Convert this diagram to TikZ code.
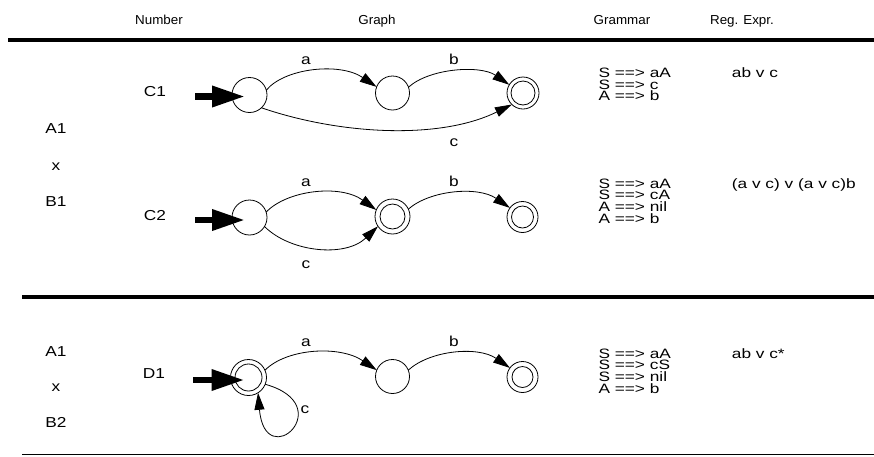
\documentclass[tikz,border=0pt]{standalone}
\usepackage{fontspec}
\setmainfont{Liberation Sans}[FakeStretch=1.2]
\newfontfamily\hdrfamily{Liberation Sans}[FakeStretch=1.03]
\newfontfamily\gramfamily{Liberation Sans}[FakeStretch=1.27]
\usetikzlibrary{arrows.meta}

\newcommand{\bodyfont}{\fontsize{14.4pt}{11.7pt}\selectfont}
\newcommand{\gramfont}{\gramfamily\fontsize{13.6pt}{11.7pt}\selectfont}
\newcommand{\headfont}{\hdrfamily\fontsize{13pt}{15pt}\selectfont}

\tikzset{
  stnode/.style={circle, draw, line width=0.8pt, inner sep=0pt, outer sep=0pt, minimum size=#1},
  accnode/.style 2 args={stnode=#1,
    path picture={\draw[line width=0.8pt] (path picture bounding box.center) circle[radius=#2];}},
  trans/.style={line width=0.8pt, -{Triangle[length=17pt,width=10pt]}},
  initarrow/.style={line width=6.5pt, -{Triangle[length=33pt,width=20pt]}},
  lbl/.style={font=\bodyfont, inner sep=0pt, anchor=base},
  hdr/.style={font=\headfont, inner sep=0pt, anchor=base},
  gram/.style={font=\gramfont, inner sep=0pt, anchor=base west, align=left},
  rule/.style={line width=#1},
}

\begin{document}
\begin{tikzpicture}[x=1pt,y=1pt]
\useasboundingbox (0,0) rectangle (874,-456);

% column headings and separators
\node[hdr] (hnum) at (159,-24.5) {Number};
\node[hdr] (hgraph) at (377,-24.5) {Graph};
\node[hdr] (hgram) at (622,-24.5) {Grammar};
\node[hdr] (hreg) at (742,-24.5) {Reg. Expr.};
\draw[rule=4.5pt] (8,-40) -- (874,-40);
\draw[rule=4pt] (22,-297) -- (874,-297);
\draw[rule=1.5pt] (22,-454.5) -- (874,-454.5);

% left column
\node[lbl] (la1) at (56,-133.3) {A1};
\node[lbl] (lx1) at (56,-170) {x};
\node[lbl] (lb1) at (56,-206.7) {B1};
\node[lbl] (la2) at (56,-356.7) {A1};
\node[lbl] (lx2) at (56,-391.7) {x};
\node[lbl] (lb2) at (56,-427.3) {B2};

% automaton numbers
\node[lbl] (nc1) at (155,-96.7) {C1};
\node[lbl] (nc2) at (155,-220) {C2};
\node[lbl] (nd1) at (154,-378) {D1};

% ---- C1 ----
\node[stnode=35pt] (c1s) at (249.5,-95) {};
\node[stnode=34pt] (c1m) at (392.5,-93) {};
\node[accnode={32pt}{12pt}] (c1f) at (523,-93) {};
\coordinate (c1in) at (195,-96.5);
\draw[initarrow] (c1in) -- ([shift={(-4.5,-1.5)}]c1s.center);
\draw[trans] (c1s.16) .. controls +(18,22) and +(-37,25) .. (c1m.159);
\draw[trans] (c1m.20) .. controls +(21,19) and +(-29,20) .. (c1f.149);
\draw[trans] (c1s.-47) .. controls +(79,-27) and +(-72,-35.5) .. (c1f.-134);
\node[lbl] (c1a) at (306,-64) {a};
\node[lbl] (c1b) at (454,-64) {b};
\node[lbl] (c1c) at (454,-146.7) {c};

% ---- C2 ----
\node[stnode=35pt] (c2s) at (249.5,-217.5) {};
\node[accnode={35pt}{12.5pt}] (c2m) at (392.5,-216.5) {};
\node[accnode={31pt}{11pt}] (c2f) at (522.5,-217) {};
\coordinate (c2in) at (195,-220);
\draw[initarrow] (c2in) -- ([shift={(-4.5,-2.5)}]c2s.center);
\draw[trans] (c2s.18) .. controls +(21,22) and +(-36,26) .. (c2m.158);
\draw[trans] (c2s.-31) .. controls +(25.5,-25.5) and +(-33,-31.7) .. (c2m.214);
\draw[trans] (c2m.25) .. controls +(21.6,19) and +(-32,22) .. (c2f.144);
\node[lbl] (c2a) at (306,-186) {a};
\node[lbl] (c2b) at (454,-186) {b};
\node[lbl] (c2c) at (306,-268) {c};

% ---- D1 ----
\node[accnode={36pt}{13.5pt}] (d1s) at (248.5,-377.5) {};
\node[stnode=34pt] (d1m) at (392.5,-376.5) {};
\node[accnode={31pt}{10.5pt}] (d1f) at (522.5,-377) {};
\coordinate (d1in) at (193,-380);
\draw[initarrow] (d1in) -- ([shift={(-4,-2.5)}]d1s.center);
\draw[trans] (d1s.24) .. controls +(22,22) and +(-37,25) .. (d1m.158);
\draw[trans] (d1m.22) .. controls +(22,20) and +(-32,22) .. (d1f.144);
\draw[trans] (d1s.-22) .. controls +(75,-21) and +(7,-82) .. (d1s.-58);
\node[lbl] (d1a) at (306,-346) {a};
\node[lbl] (d1b) at (454,-346) {b};
\node[lbl] (d1c) at (305,-413) {c};

% grammars (anchored at the baseline of their last line)
\node[gram] (g1) at (598.3,-100.7) {S ==> aA\\S ==> c\\A ==> b};
\node[gram] (g2) at (598.3,-223.3) {S ==> aA\\S ==> cA\\A ==> nil\\A ==> b};
\node[gram] (g3) at (598.3,-393.3) {S ==> aA\\S ==> cS\\S ==> nil\\A ==> b};

% regular expressions
\node[gram] (r1) at (731.7,-77.3) {ab v c};
\node[gram] (r2) at (731.7,-188.3) {(a v c) v (a v c)b};
\node[gram] (r3) at (731.7,-358.3) {ab v c*};
\end{tikzpicture}
\end{document}
